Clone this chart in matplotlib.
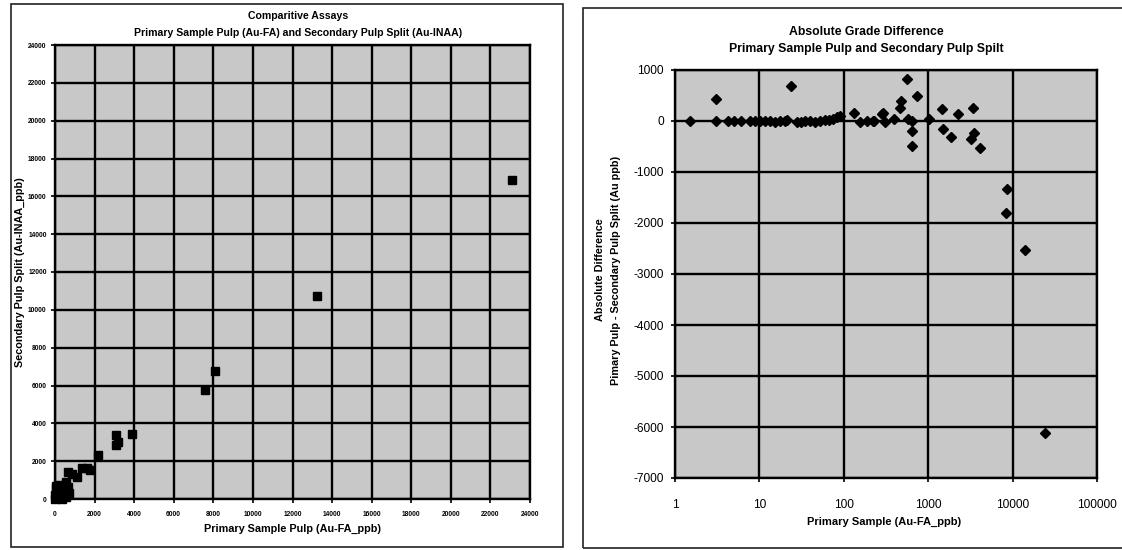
import matplotlib
matplotlib.use("Agg")
import matplotlib.pyplot as plt
from matplotlib.patches import Rectangle
from matplotlib.ticker import FixedLocator, FuncFormatter

plt.rcParams['font.family'] = ['Liberation Sans', 'DejaVu Sans']
plt.rcParams['axes.unicode_minus'] = False

# ---------------- data ----------------
# Left chart: Primary Sample Pulp (Au-FA) vs Secondary Pulp Split (Au-INAA), ppb
left_primary = [23100, 13240, 8060, 7560, 3080, 3160, 3080, 3870, 2150, 1600, 1380,
                1770, 640, 840, 1090, 540, 640, 710, 420, 170, 50, 20, 250, 120,
                300, 80, 30, 400, 560, 200, 100, 10, 60, 350]
left_secondary = [16860, 10730, 6780, 5760, 3390, 3030, 2860, 3420, 2330, 1620, 1620,
                  1530, 1440, 1320, 1150, 920, 620, 330, 480, 740, 570, 210, 120, 350,
                  60, 150, 30, 250, 100, 40, 420, 10, 700, 0]

# Right chart: Primary sample (log x) vs absolute difference
right_primary = [1.5, 3.1, 3.1, 4.2, 5.0, 6.1, 7.7, 8.9, 10.2, 11.6, 13.4, 15.3, 17.5,
                 20.1, 21.4, 24, 27.7, 30.8, 34.7, 39.8, 45.6, 52.2, 59.8, 67.4, 75.2,
                 82.4, 90.2, 133, 155, 186, 219, 228, 282, 289, 309, 389, 466, 478,
                 566, 580, 648, 745, 648, 646, 1030, 1440, 1480, 1865, 2230, 3420,
                 3470, 3250, 4090, 8540, 8270, 14000, 24000]
right_diff = [0, 425, 0, 0, 0, 0, 0, 0, 0, 0, 0, -10, 0,
              0, 10, 686, -20, -10, 0, 0, -10, 0, 10, 20, 30,
              80, 100, 160, -10, 0, 0, 0, 130, 150, -20, 30, 260, 400,
              830, 30, 0, 490, -200, -490, 30, 230, -160, -310, 130, 250,
              -230, -360, -520, -1340, -1810, -2535, -6110]

left_ticks = list(range(0, 24001, 2000))
right_yticks = list(range(-7000, 1001, 1000))
right_xticks = [1, 10, 100, 1000, 10000, 100000]

# ---------------- figure ----------------
W, H = 1122, 550
fig = plt.figure(figsize=(W / 100, H / 100), dpi=100)
fig.patch.set_facecolor('white')


def ax_rect(x0, x1, ytop, ybot):
    return [x0 / W, (H - ybot) / H, (x1 - x0) / W, (ybot - ytop) / H]


def ftext(x, y, s, **kw):
    fig.text(x / W, 1 - y / H, s, **kw)


# frames
fig.patches.append(Rectangle((11 / W, 1 - 547 / H), (563 - 11) / W, (547 - 4) / H,
                             transform=fig.transFigure, fill=False, lw=1.2, ec='#222222'))
fig.patches.append(Rectangle((583 / W, 1 - 548 / H), (1130 - 583) / W, (548 - 8) / H,
                             transform=fig.transFigure, fill=False, lw=1.2, ec='#222222'))

GRAY = '#c8c8c8'

# ---------------- left chart ----------------
axL = fig.add_axes(ax_rect(55, 530, 45, 499))
axL.set_facecolor(GRAY)
axL.plot(left_primary, left_secondary, linestyle='none', marker='s', markersize=5.5,
         color='black', zorder=3, clip_on=False)
axL.set_xlim(0, 24000)
axL.set_ylim(0, 24000)
axL.set_xticks(left_ticks)
axL.set_yticks(left_ticks)
axL.grid(True, color='black', lw=1.7)
axL.set_axisbelow(True)
for sp in axL.spines.values():
    sp.set_linewidth(1.7)
axL.tick_params(axis='both', direction='out', length=3, width=1.2, pad=3,
                labelsize=4.8)
for lab in axL.get_xticklabels() + axL.get_yticklabels():
    lab.set_fontweight('bold')
axL.tick_params(axis='x', pad=6)

ftext(298, 16, 'Comparitive Assays', ha='center', va='center', fontsize=7.6,
      fontweight='bold')
ftext(298, 33, 'Primary Sample Pulp (Au-FA) and Secondary Pulp Split (Au-INAA)',
      ha='center', va='center', fontsize=7.6, fontweight='bold')
ftext(292, 529, 'Primary Sample Pulp (Au-FA_ppb)', ha='center', va='center',
      fontsize=7.8, fontweight='bold')
ftext(20, 272, 'Secondary Pulp Split (Au-INAA_ppb)', ha='center', va='center',
      fontsize=7.8, fontweight='bold', rotation=90)

# ---------------- right chart ----------------
axR = fig.add_axes(ax_rect(675, 1097, 70, 478))
axR.set_facecolor(GRAY)
axR.set_xscale('log')
axR.plot(right_primary, right_diff, linestyle='none', marker='D', markersize=5.2,
         color='black', zorder=3)
axR.set_xlim(1, 100000)
axR.set_ylim(-7000, 1000)
axR.xaxis.set_major_locator(FixedLocator(right_xticks))
axR.xaxis.set_minor_locator(FixedLocator([]))
axR.xaxis.set_major_formatter(FuncFormatter(lambda v, p: f'{int(round(v))}'))
axR.set_yticks(right_yticks)
axR.grid(True, color='black', lw=1.7)
axR.set_axisbelow(True)
for sp in axR.spines.values():
    sp.set_linewidth(1.7)
axR.tick_params(axis='both', direction='out', length=3, width=1.2, labelsize=8.6)
axR.tick_params(axis='x', pad=12)
axR.tick_params(axis='y', pad=5)

ftext(866, 32, 'Absolute Grade Difference', ha='center', va='center', fontsize=8.8,
      fontweight='bold')
ftext(866, 49, 'Primary Sample Pulp and Secondary Pulp Spilt', ha='center',
      va='center', fontsize=8.8, fontweight='bold')
ftext(884, 522, 'Primary Sample (Au-FA_ppb)', ha='center', va='center', fontsize=8,
      fontweight='bold')
ftext(600, 270, 'Absolute Difference', ha='center', va='center', fontsize=7.8,
      fontweight='bold', rotation=90)
ftext(616, 270, 'Pimary Pulp - Secondary Pulp Split (Au ppb)', ha='center',
      va='center', fontsize=7.8, fontweight='bold', rotation=90)

fig.savefig('out.png', dpi=100)
